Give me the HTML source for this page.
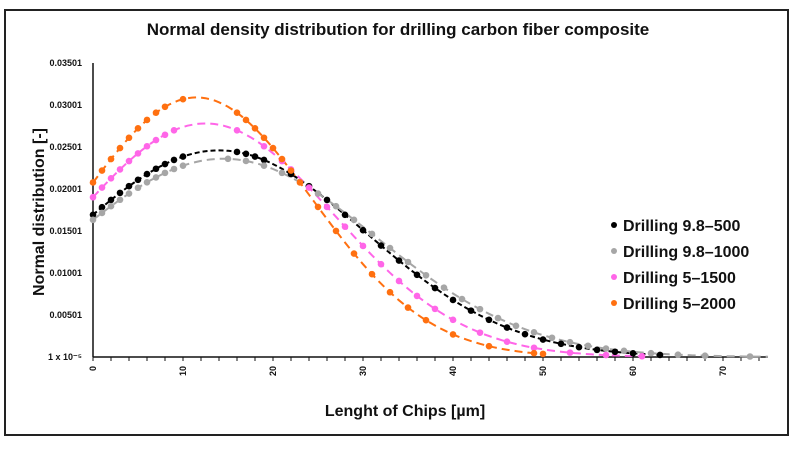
<!DOCTYPE html>
<html><head><meta charset="utf-8">
<style>
body{margin:0;background:#fff;}
svg text{font-family:"Liberation Sans",Arial,sans-serif;font-weight:bold;fill:#111;}
</style></head>
<body>
<svg id="chart" width="796" height="449" viewBox="0 0 796 449" xmlns="http://www.w3.org/2000/svg">
<rect x="5" y="10" width="783" height="425" fill="#fff" stroke="#222" stroke-width="2"/>
<text x="398" y="35" text-anchor="middle" font-size="17">Normal density distribution for drilling carbon fiber composite</text>
<text transform="translate(44,212) rotate(-90)" text-anchor="middle" font-size="16">Normal distribution [-]</text>
<text x="405" y="416" text-anchor="middle" font-size="16">Lenght of Chips [µm]</text>
<g id="axes"></g>
<g id="fits"></g>
<g id="points"></g>
<g id="legend"></g>
</svg>
<script>
const xTicks=[0,10,20,30,40,50,60,70];
const yTicks=[0.00001,0.00501,0.01001,0.01501,0.02001,0.02501,0.03001,0.03501];
const yTickLabels=["1 x 10\u207B\u2075","0.00501","0.01001","0.01501","0.02001","0.02501","0.03001","0.03501"];
const seriesNames=["Drilling 9.8\u2013500","Drilling 9.8\u20131000","Drilling 5\u20131500","Drilling 5\u20132000"];
const seriesColors=["#000000","#a6a6a6","#ff66e8","#ff7010"];
const fitMean=[14,14.5,12.5,11.5];
const fitSd=[16.2,16.9,14.35,12.9];
const fitPeak=[0.0246,0.0236,0.0278,0.0309];
const fitEnd=[63,75,61,50];
const s1x=[0,1,2,3,4,5,6,7,8,9,10,16,17,18,19,22,24,26,28,30,32,34,36,38,40,42,44,46,48,50,52,54,56,58,60,63];
const s1y=[0.01693,0.01783,0.0187,0.01954,0.02034,0.02109,0.02178,0.02241,0.02297,0.02346,0.02386,0.02441,0.02419,0.02386,0.02346,0.02178,0.02034,0.0187,0.01693,0.0151,0.01327,0.01148,0.00978,0.00821,0.00679,0.00552,0.00443,0.0035,0.00272,0.00208,0.00157,0.00117,0.00085,0.00062,0.00044,0.00025];
const s2x=[0,1,2,3,4,5,6,7,8,9,10,15,17,19,21,23,25,27,29,31,33,35,37,39,41,43,45,47,49,51,53,55,57,59,62,65,68,73];
const s2y=[0.01633,0.01715,0.01795,0.01872,0.01946,0.02015,0.0208,0.02138,0.02192,0.02238,0.02278,0.02359,0.02334,0.02278,0.02192,0.0208,0.01946,0.01795,0.01633,0.01465,0.01297,0.01131,0.00973,0.00825,0.0069,0.0057,0.00463,0.00371,0.00294,0.00229,0.00176,0.00134,0.001,0.00074,0.00045,0.00027,0.00016,0.00006];
const s3x=[0,1,2,3,4,5,6,7,8,9,16,19,21,22,24,26,28,30,32,34,36,38,40,43,46,49,53,57,61];
const s3y=[0.01902,0.02017,0.02127,0.02233,0.02332,0.02424,0.02509,0.02583,0.02645,0.02699,0.02699,0.02509,0.02332,0.02233,0.02017,0.01786,0.01551,0.01322,0.01105,0.00905,0.00727,0.00573,0.00443,0.0029,0.00182,0.0011,0.00052,0.00023,0.00009];
const s4x=[0,1,2,3,4,5,6,7,8,10,16,17,18,19,20,21,22,23,25,27,29,31,33,35,37,40,44,49,50];
const s4y=[0.02078,0.02219,0.02356,0.02487,0.0261,0.02722,0.02822,0.02908,0.02979,0.03069,0.02908,0.02822,0.02722,0.0261,0.02487,0.02356,0.02219,0.02078,0.01787,0.01501,0.01231,0.00986,0.00771,0.00588,0.00438,0.00269,0.00129,0.00045,0.00037];
const seriesX=[s1x,s2x,s3x,s4x];
const seriesY=[s1y,s2y,s3y,s4y];

const NS="http://www.w3.org/2000/svg";
const X0=93,PXU=9.0,Y0=357,PYU=294/0.035;
function sx(v){return X0+v*PXU;}
function sy(v){return Y0-v*PYU;}
function mk(tag,attrs,parent){const e=document.createElementNS(NS,tag);for(const k in attrs)e.setAttribute(k,attrs[k]);parent.appendChild(e);return e;}

const axes=document.getElementById('axes');
let l=mk('line',{x1:X0,y1:Y0,x2:768,y2:Y0,stroke:'#111','stroke-width':1.5},axes);


l=mk('line',{x1:X0,y1:Y0,x2:X0,y2:63,stroke:'#111','stroke-width':1.5},axes);


for(let v=0;v<=74;v+=2){
  const t=mk('line',{x1:sx(v),y1:Y0,x2:sx(v),y2:Y0+4,stroke:'#111','stroke-width':1},axes);
  
  
}
xTicks.forEach(v=>{
  const t=mk('text',{transform:`translate(${sx(v)+3},${Y0+9}) rotate(-90)`,'text-anchor':'end','font-size':9},axes);
  t.textContent=v;
  
  
});
yTicks.forEach((v,i)=>{
  const t=mk('text',{x:82,y:sy(v)+3,'text-anchor':'end','font-size':9},axes);
  t.textContent=yTickLabels[i];
  
  
});

const fits=document.getElementById('fits');
fitMean.forEach((m,i)=>{
  let d='';
  for(let x=0;x<=fitEnd[i];x+=0.5){
    const y=fitPeak[i]*Math.exp(-((x-m)*(x-m))/(2*fitSd[i]*fitSd[i]));
    d+=(x===0?'M':'L')+sx(x).toFixed(1)+','+sy(y).toFixed(1);
  }
  const p=mk('path',{d:d,fill:'none',stroke:seriesColors[i],'stroke-width':2,'stroke-dasharray':i===0?'5,3':'8,5'},fits);
  
  
});

const pts=document.getElementById('points');
seriesX.forEach((xs,i)=>{
  xs.forEach((x,j)=>{
    const c=mk('circle',{cx:sx(x),cy:sy(seriesY[i][j]),r:3.3,fill:seriesColors[i]},pts);
    
    
  });
});

const lg=document.getElementById('legend');
seriesNames.forEach((n,i)=>{
  const y=225+i*26;
  const c=mk('circle',{cx:614,cy:y,r:3,fill:seriesColors[i]},lg);
  
  
  const t=mk('text',{x:623,y:y+6,'font-size':16},lg);
  t.textContent=n;
  
  
});
</script>
</body></html>
